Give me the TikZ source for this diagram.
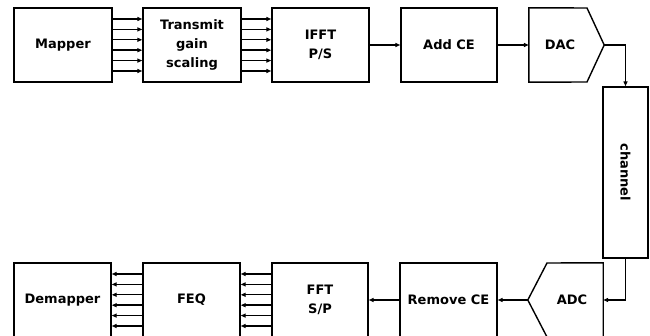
\documentclass[tikz,border=0pt]{standalone}
\usepackage{fontspec}
\setmainfont{DejaVu Sans}
\usetikzlibrary{arrows.meta}
\begin{document}
\begin{tikzpicture}[x=1pt,y=-1pt,
  lw/.style={line width=1.4pt},
  blk/.style={draw,lw,rectangle,minimum height=74pt,inner sep=0pt,align=center,
    font=\bfseries\fontsize{13}{19}\selectfont},
  txt/.style={inner sep=0pt,align=center,font=\bfseries\fontsize{13}{19}\selectfont},
  arr/.style={line width=1.4pt,-{Triangle[length=5pt,width=4pt]}}]
\useasboundingbox (0,0) rectangle (650,336);
% top row
\node[blk,minimum width=98pt] (mapper) at (63,45) {Mapper};
\node[blk,minimum width=98pt] (tx) at (192,45) {Transmit\\gain\\scaling};
\node[blk,minimum width=97pt] (ifft) at (320.5,45) {IFFT\\P/S};
\node[blk,minimum width=96pt] (addce) at (449,45) {Add CE};
\node[minimum width=75pt,minimum height=74pt,inner sep=0pt] (dac) at (566.5,45) {};
\draw[lw,line join=miter] (dac.south west) -- (dac.north west) -- (587,8) -- (dac.east) -- (587,82) -- cycle;
\node[txt] (dact) at (560,45) {DAC};
% channel
\node[draw,lw,minimum width=45pt,minimum height=171pt,inner sep=0pt] (chan) at (625.5,172.5) {};
\node[txt,rotate=-90] (chant) at (chan.center) {channel};
% bottom row
\node[blk,minimum width=97pt] (demap) at (62.5,300) {Demapper};
\node[blk,minimum width=97pt] (feq) at (191.5,300) {FEQ};
\node[blk,minimum width=96pt] (fft) at (320,300) {FFT\\S/P};
\node[blk,minimum width=97pt] (rmce) at (448.5,300) {Remove CE};
\node[minimum width=75pt,minimum height=74pt,inner sep=0pt] (adc) at (565.5,300) {};
\draw[lw,line join=miter] (adc.north east) -- (adc.south east) -- (547,337) -- (adc.west) -- (547,263) -- cycle;
\node[txt] (adct) at (572,300) {ADC};
% multi arrows
\foreach \d in {-26,-15.6,-5.2,5.2,15.6,26}{
  \draw[arr] ([yshift=-\d pt]mapper.east) -- ([yshift=-\d pt]tx.west);
  \draw[arr] ([yshift=-\d pt]tx.east) -- ([yshift=-\d pt]ifft.west);
  \draw[arr] ([yshift=-\d pt]feq.west) -- ([yshift=-\d pt]demap.east);
  \draw[arr] ([yshift=-\d pt]fft.west) -- ([yshift=-\d pt]feq.east);
}
\draw[arr] (ifft) -- (addce);
\draw[arr] (addce) -- (dac.west);
\draw[arr] (dac.east) -| (chan.north);
\draw[arr] (chan.south) |- (adc.east);
\draw[arr] (adc.west) -- (rmce);
\draw[arr] (rmce) -- (fft);
\end{tikzpicture}
\end{document}
